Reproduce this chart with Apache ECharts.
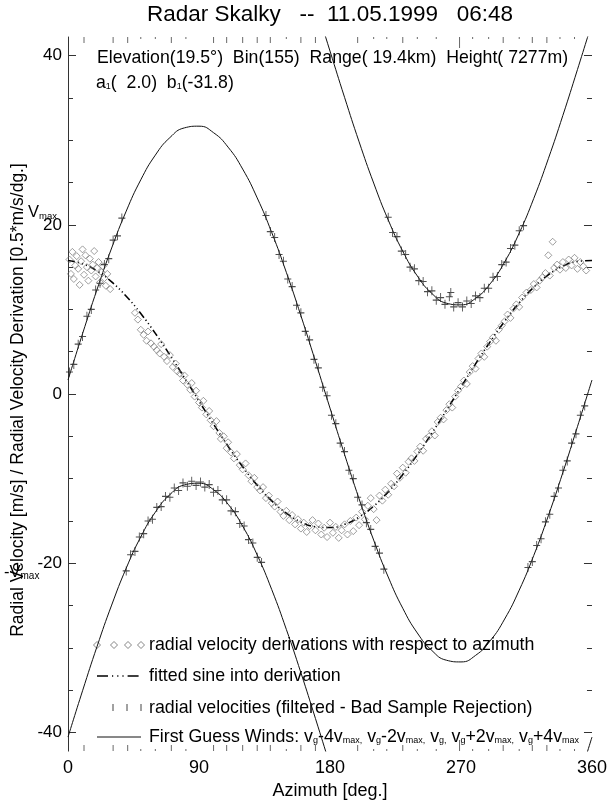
<!DOCTYPE html>
<html><head><meta charset="utf-8">
<script src="https://cdn.jsdelivr.net/npm/echarts@6/dist/echarts.min.js"></script>
<style>html,body{margin:0;padding:0;background:#fff}#c{width:610px;height:805px}</style>
</head><body><div id="c"></div>
<script>
const FONT = '"Liberation Sans", Arial, Helvetica, sans-serif';

// ---- data ----
const vmax = 21.1;
const yTicks = [-40, -20, 0, 20, 40];
const yMinorTicks = [-40,-35,-30,-25,-20,-15,-10,-5,0,5,10,15,20,25,30,35,40];
const xTicks = [0, 90, 180, 270, 360];

const curveAz = [0,10,20,30,40,50,60,70,80,90,100,110,120,130,140,150,160,170,180,190,200,210,220,230,240,250,260,270,280,290,300,310,320,330,340,350,360];
// first guess wind v_g
const vgCurve = [1.66,7.13,12.39,17.26,21.62,25.32,28.24,30.31,31.46,31.66,30.89,29.18,26.59,23.18,19.08,14.39,9.27,3.86,-1.66,-7.13,-12.39,-17.26,-21.62,-25.32,-28.24,-30.31,-31.46,-31.66,-30.89,-29.18,-26.59,-23.18,-19.08,-14.39,-9.27,-3.86,1.66];
// v_g + 2 v_max
const vgPlus2Curve = [43.86,49.33,54.59,59.46,63.82,67.52,70.44,72.51,73.66,73.86,73.09,71.38,68.79,65.38,61.28,56.59,51.47,46.06,40.54,35.07,29.81,24.94,20.58,16.88,13.96,11.89,10.74,10.54,11.31,13.02,15.61,19.02,23.12,27.81,32.93,38.34,43.86];
// v_g - 2 v_max
const vgMinus2Curve = [-40.54,-35.07,-29.81,-24.94,-20.58,-16.88,-13.96,-11.89,-10.74,-10.54,-11.31,-13.02,-15.61,-19.02,-23.12,-27.81,-32.93,-38.34,-43.86,-49.33,-54.59,-59.46,-63.82,-67.52,-70.44,-72.51,-73.66,-73.86,-73.09,-71.38,-68.79,-65.38,-61.28,-56.59,-51.47,-46.06,-40.54];
// fitted sine into derivation
const fitCurve = [15.78,15.40,14.54,13.25,11.56,9.51,7.17,4.62,1.93,-0.83,-3.56,-6.17,-8.60,-10.78,-12.62,-14.08,-15.11,-15.68,-15.78,-15.40,-14.54,-13.25,-11.56,-9.51,-7.17,-4.62,-1.93,0.83,3.56,6.17,8.60,10.78,12.62,14.08,15.11,15.68,15.78];

// radial velocity derivations (diamonds): [azimuth, value]
const derivPoints = [
[1,15.9],[2,14.2],[3,16.8],[4,13.6],[5,15.2],[6,16.3],[7,14.8],[8,12.9],[9,15.7],[10,17.1],[11,14.1],[12,16.4],[13,15.0],[14,13.4],[15,16.0],[16,14.6],[17,15.3],[18,16.9],[19,13.9],[20,14.9],[21,15.6],[22,13.2],[23,14.4],[24,15.1],[25,13.7],[26,12.8],[27,14.2],[29,12.4],
[46,9.6],[48,8.8],[50,7.6],[52,7.0],[54,6.3],[55,7.4],[57,6.0],[59,5.6],[61,5.2],[63,4.8],[64,5.9],[66,4.4],[68,3.9],[70,4.6],[72,3.2],[74,3.6],[75,2.7],[77,2.4],[79,1.6],[80,2.2],[82,1.1],[84,0.5],[85,1.3],[87,-0.3],[88,0.4],[90,-1.0],[92,-1.6],[93,-0.8],[95,-2.4],[97,-2.0],[98,-3.1],[100,-3.8],[102,-3.2],[104,-4.6],[105,-5.3],[107,-5.0],[109,-6.4],[110,-5.7],[112,-6.9],[114,-7.6],[116,-7.1],[118,-8.4],[120,-8.9],[122,-8.2],[124,-9.6],[126,-10.3],[128,-9.9],[130,-11.0],
[132,-11.4],[134,-11.0],[136,-12.3],[138,-12.0],[140,-12.9],[142,-13.3],[144,-12.7],[146,-13.9],[148,-14.4],[150,-13.8],[152,-14.9],[154,-14.3],[156,-15.4],[158,-14.8],[160,-15.9],[162,-15.2],[164,-16.3],[166,-15.6],[168,-14.9],[170,-16.1],[172,-15.3],[174,-16.6],[176,-15.8],[178,-16.9],[180,-15.2],[182,-16.4],[184,-15.7],[186,-17.0],[188,-16.1],[190,-15.4],[192,-16.6],[194,-15.0],[196,-16.2],[198,-14.6],[200,-15.5],[202,-13.9],[204,-14.8],[206,-13.2],[208,-12.3],[210,-13.6],[212,-14.9],
[214,-12.0],[216,-12.6],[218,-11.3],[220,-11.9],[222,-10.6],[224,-10.9],[226,-9.4],[228,-9.9],[230,-8.7],[232,-9.3],[234,-8.0],[236,-7.6],[238,-7.9],[240,-6.8],[242,-6.2],[244,-6.7],[246,-5.3],[248,-5.0],[250,-4.4],[252,-4.9],[254,-3.3],[256,-2.8],[258,-3.0],[260,-1.9],[262,-1.2],[264,-1.6],[266,-0.3],[268,0.4],[270,0.9],[272,1.6],[274,1.2],[276,2.6],[278,3.3],[280,3.0],[282,4.2],[284,4.8],[286,4.4],[288,5.6],[290,6.2],[292,6.7],[294,6.3],[296,7.6],[298,8.1],[300,8.6],[302,9.4],[304,9.0],[306,10.1],[308,10.6],[310,10.3],[312,11.4],[315,12.0],[318,12.3],[320,13.0],[322,12.6],[324,13.4],[326,13.8],[328,14.3],[330,16.4],[331,14.0],[333,18.0],[334,14.9],[336,15.3],[338,14.7],[340,15.6],[342,14.9],[344,15.9],[346,15.2],[348,16.1],[350,14.8],[352,15.6],[354,15.1],[356,14.6]
];

// radial velocities (filtered): [azimuth, value]
const velPoints = [
[1,2.6],[4,3.5],[7,5.9],[10,6.8],[13,9.2],[16,10.0],[19,12.3],[22,13.1],[25,15.3],[28,16.0],[31,18.2],[34,18.7],[37,20.8],
[40,-20.9],[43,-19.0],[46,-18.6],[49,-16.9],[52,-16.5],[55,-15.0],[58,-14.8],[61,-13.4],[64,-13.3],[67,-12.1],[70,-12.2],[73,-11.1],[76,-11.4],[79,-10.5],[82,-10.9],[85,-10.3],[88,-10.8],[91,-10.4],[94,-11.0],[97,-10.7],[100,-11.6],[103,-11.4],[106,-12.5],[109,-12.5],[112,-13.8],[115,-13.9],[118,-15.3],[121,-15.6],[124,-17.2],[127,-17.6],[130,-19.3],[133,-19.9],
[136,21.1],[139,19.2],[142,18.5],[145,16.5],[148,15.7],[151,13.6],[154,12.7],[157,10.5],[160,9.6],[163,7.4],[166,6.4],[169,4.1],[172,3.1],[175,0.8],[178,-0.2],[181,-2.5],[184,-3.5],[187,-5.8],[190,-6.8],[193,-9.0],[196,-10.0],[199,-12.2],[202,-13.1],[205,-15.2],[208,-16.0],[211,-18.0],[214,-18.8],[217,-20.7],
[220,20.9],[223,19.1],[226,18.6],[229,16.9],[232,16.5],[235,15.0],[238,14.8],[241,13.4],[244,13.3],[247,12.1],[250,12.2],[253,11.1],[256,11.4],[259,10.6],[262,11.5],[263,12.0],[265,10.3],[268,10.8],[271,10.3],[274,11.0],[277,10.7],[280,11.6],[283,11.4],[286,12.5],[289,12.5],[292,13.8],[295,13.9],[298,15.3],[301,15.6],[304,17.2],[307,17.6],[310,19.3],[313,19.9],
[316,-20.5],[319,-19.8],[322,-17.9],[325,-17.1],[328,-15.1],[331,-14.2],[334,-12.1],[337,-11.1],[340,-9.0],[343,-7.9],[346,-5.8],[349,-4.7],[352,-2.5],[355,-1.4]
];

// azimuths of the short marks along the top and bottom edges
const edgeFullAz = [11,31,41,71,100,109,120,130,139,160,170,199,230,299,319,329];
const edgeDotAz = [50,60,81,150,210,219,240,253,278,289,310,338,348];
const edgeTallAz = [269];

const titleText = 'Radar Skalky   --  11.05.1999   06:48';
const infoText = 'Elevation(19.5°)  Bin(155)  Range( 19.4km)  Height( 7277m)';
const yTitle = 'Radial Velocity [m/s] / Radial Velocity Derivation [0.5*m/s/dg.]';
const xTitle = 'Azimuth [deg.]';

// ---- chart ----
const chart = echarts.init(document.getElementById('c'), null, {renderer: 'canvas'});
const pair = (arr) => curveAz.map((a, i) => [a, arr[i]]);
const INK = '#111';

function edgeSeries(azs, h) {
  const data = [];
  azs.forEach(a => {
    data.push({value: [a, 2 * vmax], symbolOffset: [0, h / 2]});
    data.push({value: [a, -2 * vmax], symbolOffset: [0, -h / 2]});
  });
  return {type: 'scatter', data, symbol: 'rect', symbolSize: [1, h], clip: false, silent: true,
    itemStyle: {color: '#444'}, z: 1};
}

const yBase = {type: 'value', min: -2 * vmax, max: 2 * vmax, splitLine: {show: false}, offset: 0};

const option = {
  animation: false,
  backgroundColor: '#fff',
  grid: {left: 68, right: 13, top: 37, bottom: 48},
  xAxis: {type: 'value', min: 0, max: 360, interval: 90,
    axisLine: {show: false}, axisTick: {show: false}, splitLine: {show: false},
    axisLabel: {customValues: xTicks, fontFamily: FONT, fontSize: 18, color: '#000', margin: 8, showMaxLabel: true, showMinLabel: true},
    name: xTitle, nameLocation: 'middle', nameGap: 29,
    nameTextStyle: {fontFamily: FONT, fontSize: 18, color: '#000'}},
  yAxis: [
    Object.assign({}, yBase, {position: 'left',
      axisLine: {show: true, lineStyle: {color: '#333', width: 1}},
      axisTick: {show: true, inside: true, length: 8, customValues: yTicks, lineStyle: {color: '#333'}},
      axisLabel: {customValues: yTicks, fontFamily: FONT, fontSize: 17, color: '#000', margin: 6}}),
    Object.assign({}, yBase, {position: 'left',
      axisLine: {show: false}, axisLabel: {show: false},
      axisTick: {show: true, inside: true, length: 5, customValues: yMinorTicks, lineStyle: {color: '#333'}}}),
    Object.assign({}, yBase, {position: 'right',
      axisLine: {show: false}, axisLabel: {show: false},
      axisTick: {show: true, inside: true, length: 8, customValues: yTicks, lineStyle: {color: '#333'}}}),
    Object.assign({}, yBase, {position: 'right',
      axisLine: {show: false}, axisLabel: {show: false},
      axisTick: {show: true, inside: true, length: 5, customValues: yMinorTicks, lineStyle: {color: '#333'}}})
  ],
  series: [
    {name: 'vg', type: 'line', data: pair(vgCurve), smooth: true, symbol: 'none', lineStyle: {color: INK, width: 1}, z: 2},
    {name: 'vg+2vmax', type: 'line', data: pair(vgPlus2Curve), smooth: true, symbol: 'none', lineStyle: {color: INK, width: 1}, z: 2},
    {name: 'vg-2vmax', type: 'line', data: pair(vgMinus2Curve), smooth: true, symbol: 'none', lineStyle: {color: INK, width: 1}, z: 2},
    {name: 'fit', type: 'line', data: pair(fitCurve), smooth: true, symbol: 'none',
      lineStyle: {color: '#000', width: 1.6, type: [7, 3, 1.2, 3, 1.2, 3, 1.2, 3]}, z: 3},
    {name: 'deriv', type: 'scatter', data: derivPoints, symbol: 'diamond', symbolSize: 7,
      itemStyle: {color: 'rgba(0,0,0,0)', borderColor: '#666', borderWidth: 0.8}, z: 4},
    {name: 'vel', type: 'scatter', data: velPoints, symbol: 'path://M0,5L10,5M5,0L5,10', symbolSize: [7, 9],
      itemStyle: {color: 'rgba(0,0,0,0)', borderColor: '#222', borderWidth: 1}, z: 5},
    edgeSeries(edgeFullAz, 6),
    edgeSeries(edgeDotAz, 2),
    edgeSeries(edgeTallAz, 11)
  ],
  graphic: []
};

const T = (x, y, text, size, extra) => Object.assign({type: 'text', x, y, silent: true,
  style: Object.assign({text, font: size + 'px ' + FONT, fill: '#000', align: 'left', verticalAlign: 'middle', textAlign: 'left', textVerticalAlign: 'middle'}, extra || {})});

const richBase = (size, sub) => ({n: {fontSize: size, fontFamily: FONT, lineHeight: 20, verticalAlign: 'bottom', height: 20},
                             s: {fontSize: sub || 9, fontFamily: FONT, lineHeight: 12, verticalAlign: 'bottom', height: 12}});

const g = [];
g.push(T(330, 15, titleText, 22.5, {align: 'center', textAlign: 'center'}));
g.push(T(97, 58, infoText, 17.7));
g.push(T(96, 83, '{n|a}{s|1}{n|(  2.0)  b}{s|1}{n|(-31.8)}', 17.7, {rich: richBase(17.7)}));
// v_max labels
g.push(T(28, 212, '{n|V}{s|max}', 16.5, {rich: richBase(16.5, 9.5)}));
g.push(T(4, 572, '{n|-V}{s|max}', 16.5, {rich: richBase(16.5, 10)}));
// y title
g.push(Object.assign(T(18, 400, yTitle, 17.5, {align: 'center', textAlign: 'center'}), {rotation: Math.PI / 2}));
// legend
const LX = 149, LF = 17.8;
[97, 114, 128, 141].forEach(x => g.push({type: 'polygon', silent: true,
  shape: {points: [[x, 641.5], [x + 3.5, 645], [x, 648.5], [x - 3.5, 645]]},
  style: {fill: 'none', stroke: '#666', lineWidth: 0.8}}));
g.push(T(LX, 645, 'radial velocity derivations with respect to azimuth', LF));
g.push({type: 'polyline', silent: true, shape: {points: [[97, 676], [141, 676]]},
  style: {stroke: '#000', lineWidth: 1.6, lineDash: [11, 4, 1.2, 4, 1.2, 4, 1.2, 4]}});
g.push(T(LX, 676, 'fitted sine into derivation', LF));
[113, 127, 141].forEach(x => g.push({type: 'line', silent: true, shape: {x1: x, y1: 704, x2: x, y2: 711},
  style: {stroke: '#444', lineWidth: 1}}));
g.push(T(LX, 708, 'radial velocities (filtered - Bad Sample Rejection)', LF));
g.push({type: 'line', silent: true, shape: {x1: 97, y1: 737, x2: 141, y2: 737}, style: {stroke: '#111', lineWidth: 1}});
g.push(T(LX, 737, '{n|First Guess Winds: v}{s|g}{n|-4v}{s|max,}{n| v}{s|g}{n|-2v}{s|max,}{n| v}{s|g,}{n| v}{s|g}{n|+2v}{s|max,}{n| v}{s|g}{n|+4v}{s|max}', LF, {rich: richBase(LF)}));
option.graphic = g;

chart.setOption(option);
</script>
</body></html>
